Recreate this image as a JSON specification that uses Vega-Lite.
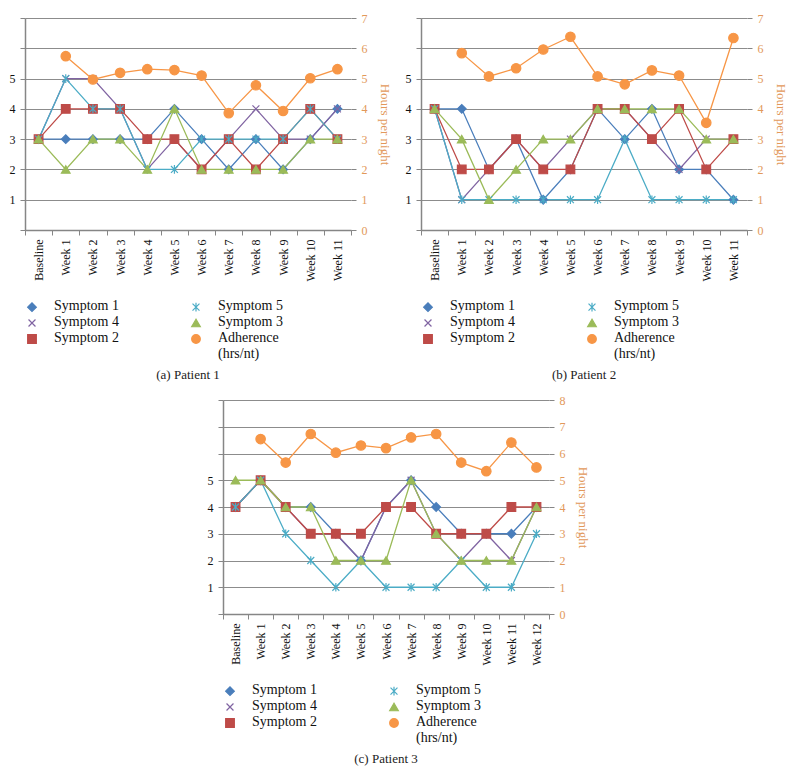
{
  "$schema": "https://vega.github.io/schema/vega-lite/v6.json",
  "background": "white",
  "padding": {"left": 9, "top": 12, "right": 5, "bottom": 5},
  "config": {
    "font": "Liberation Serif",
    "view": {"stroke": null},
    "axis": {"labelFont": "Liberation Serif", "titleFont": "Liberation Serif", "labelFontSize": 12, "domainColor": "#868686", "tickColor": "#868686", "gridColor": "#8c8c8c", "tickSize": 5, "labelColor": "#111111"},
    "legend": {"orient": "bottom", "columns": 2, "title": null, "labelFont": "Liberation Serif", "labelFontSize": 14, "labelColor": "#111111", "symbolSize": 75, "symbolStrokeWidth": 1.2, "rowPadding": 1, "columnPadding": 70, "labelOffset": 15, "offset": 18, "labelLimit": 200, "labelBaseline": "top"},
    "title": {"font": "Liberation Serif", "fontSize": 13, "fontWeight": "normal", "color": "#222222"}
  },
  "datasets": {
    "p1": [
      {"week": "Baseline", "series": "Symptom 1", "value": 3}, {"week": "Week 1", "series": "Symptom 1", "value": 3}, {"week": "Week 2", "series": "Symptom 1", "value": 3}, {"week": "Week 3", "series": "Symptom 1", "value": 3}, {"week": "Week 4", "series": "Symptom 1", "value": 3}, {"week": "Week 5", "series": "Symptom 1", "value": 4}, {"week": "Week 6", "series": "Symptom 1", "value": 3}, {"week": "Week 7", "series": "Symptom 1", "value": 2}, {"week": "Week 8", "series": "Symptom 1", "value": 3}, {"week": "Week 9", "series": "Symptom 1", "value": 2}, {"week": "Week 10", "series": "Symptom 1", "value": 3}, {"week": "Week 11", "series": "Symptom 1", "value": 4},
      {"week": "Baseline", "series": "Symptom 4", "value": 3}, {"week": "Week 1", "series": "Symptom 4", "value": 5}, {"week": "Week 2", "series": "Symptom 4", "value": 5}, {"week": "Week 3", "series": "Symptom 4", "value": 4}, {"week": "Week 4", "series": "Symptom 4", "value": 2}, {"week": "Week 5", "series": "Symptom 4", "value": 3}, {"week": "Week 6", "series": "Symptom 4", "value": 2}, {"week": "Week 7", "series": "Symptom 4", "value": 3}, {"week": "Week 8", "series": "Symptom 4", "value": 4}, {"week": "Week 9", "series": "Symptom 4", "value": 3}, {"week": "Week 10", "series": "Symptom 4", "value": 3}, {"week": "Week 11", "series": "Symptom 4", "value": 4},
      {"week": "Baseline", "series": "Symptom 2", "value": 3}, {"week": "Week 1", "series": "Symptom 2", "value": 4}, {"week": "Week 2", "series": "Symptom 2", "value": 4}, {"week": "Week 3", "series": "Symptom 2", "value": 4}, {"week": "Week 4", "series": "Symptom 2", "value": 3}, {"week": "Week 5", "series": "Symptom 2", "value": 3}, {"week": "Week 6", "series": "Symptom 2", "value": 2}, {"week": "Week 7", "series": "Symptom 2", "value": 3}, {"week": "Week 8", "series": "Symptom 2", "value": 2}, {"week": "Week 9", "series": "Symptom 2", "value": 3}, {"week": "Week 10", "series": "Symptom 2", "value": 4}, {"week": "Week 11", "series": "Symptom 2", "value": 3},
      {"week": "Baseline", "series": "Symptom 5", "value": 3}, {"week": "Week 1", "series": "Symptom 5", "value": 5}, {"week": "Week 2", "series": "Symptom 5", "value": 4}, {"week": "Week 3", "series": "Symptom 5", "value": 4}, {"week": "Week 4", "series": "Symptom 5", "value": 2}, {"week": "Week 5", "series": "Symptom 5", "value": 2}, {"week": "Week 6", "series": "Symptom 5", "value": 3}, {"week": "Week 7", "series": "Symptom 5", "value": 3}, {"week": "Week 8", "series": "Symptom 5", "value": 3}, {"week": "Week 9", "series": "Symptom 5", "value": 3}, {"week": "Week 10", "series": "Symptom 5", "value": 4}, {"week": "Week 11", "series": "Symptom 5", "value": 3},
      {"week": "Baseline", "series": "Symptom 3", "value": 3}, {"week": "Week 1", "series": "Symptom 3", "value": 2}, {"week": "Week 2", "series": "Symptom 3", "value": 3}, {"week": "Week 3", "series": "Symptom 3", "value": 3}, {"week": "Week 4", "series": "Symptom 3", "value": 2}, {"week": "Week 5", "series": "Symptom 3", "value": 4}, {"week": "Week 6", "series": "Symptom 3", "value": 2}, {"week": "Week 7", "series": "Symptom 3", "value": 2}, {"week": "Week 8", "series": "Symptom 3", "value": 2}, {"week": "Week 9", "series": "Symptom 3", "value": 2}, {"week": "Week 10", "series": "Symptom 3", "value": 3}, {"week": "Week 11", "series": "Symptom 3", "value": 3},
      {"week": "Week 1", "series": "Adherence (hrs/nt)", "value": 5.74}, {"week": "Week 2", "series": "Adherence (hrs/nt)", "value": 4.97}, {"week": "Week 3", "series": "Adherence (hrs/nt)", "value": 5.19}, {"week": "Week 4", "series": "Adherence (hrs/nt)", "value": 5.31}, {"week": "Week 5", "series": "Adherence (hrs/nt)", "value": 5.28}, {"week": "Week 6", "series": "Adherence (hrs/nt)", "value": 5.1}, {"week": "Week 7", "series": "Adherence (hrs/nt)", "value": 3.86}, {"week": "Week 8", "series": "Adherence (hrs/nt)", "value": 4.78}, {"week": "Week 9", "series": "Adherence (hrs/nt)", "value": 3.93}, {"week": "Week 10", "series": "Adherence (hrs/nt)", "value": 5.01}, {"week": "Week 11", "series": "Adherence (hrs/nt)", "value": 5.31}
    ],
    "p2": [
      {"week": "Baseline", "series": "Symptom 1", "value": 4}, {"week": "Week 1", "series": "Symptom 1", "value": 4}, {"week": "Week 2", "series": "Symptom 1", "value": 2}, {"week": "Week 3", "series": "Symptom 1", "value": 3}, {"week": "Week 4", "series": "Symptom 1", "value": 1}, {"week": "Week 5", "series": "Symptom 1", "value": 2}, {"week": "Week 6", "series": "Symptom 1", "value": 4}, {"week": "Week 7", "series": "Symptom 1", "value": 3}, {"week": "Week 8", "series": "Symptom 1", "value": 4}, {"week": "Week 9", "series": "Symptom 1", "value": 2}, {"week": "Week 10", "series": "Symptom 1", "value": 2}, {"week": "Week 11", "series": "Symptom 1", "value": 1},
      {"week": "Baseline", "series": "Symptom 4", "value": 4}, {"week": "Week 1", "series": "Symptom 4", "value": 1}, {"week": "Week 2", "series": "Symptom 4", "value": 2}, {"week": "Week 3", "series": "Symptom 4", "value": 3}, {"week": "Week 4", "series": "Symptom 4", "value": 2}, {"week": "Week 5", "series": "Symptom 4", "value": 3}, {"week": "Week 6", "series": "Symptom 4", "value": 4}, {"week": "Week 7", "series": "Symptom 4", "value": 4}, {"week": "Week 8", "series": "Symptom 4", "value": 3}, {"week": "Week 9", "series": "Symptom 4", "value": 2}, {"week": "Week 10", "series": "Symptom 4", "value": 3}, {"week": "Week 11", "series": "Symptom 4", "value": 3},
      {"week": "Baseline", "series": "Symptom 2", "value": 4}, {"week": "Week 1", "series": "Symptom 2", "value": 2}, {"week": "Week 2", "series": "Symptom 2", "value": 2}, {"week": "Week 3", "series": "Symptom 2", "value": 3}, {"week": "Week 4", "series": "Symptom 2", "value": 2}, {"week": "Week 5", "series": "Symptom 2", "value": 2}, {"week": "Week 6", "series": "Symptom 2", "value": 4}, {"week": "Week 7", "series": "Symptom 2", "value": 4}, {"week": "Week 8", "series": "Symptom 2", "value": 3}, {"week": "Week 9", "series": "Symptom 2", "value": 4}, {"week": "Week 10", "series": "Symptom 2", "value": 2}, {"week": "Week 11", "series": "Symptom 2", "value": 3},
      {"week": "Baseline", "series": "Symptom 5", "value": 4}, {"week": "Week 1", "series": "Symptom 5", "value": 1}, {"week": "Week 2", "series": "Symptom 5", "value": 1}, {"week": "Week 3", "series": "Symptom 5", "value": 1}, {"week": "Week 4", "series": "Symptom 5", "value": 1}, {"week": "Week 5", "series": "Symptom 5", "value": 1}, {"week": "Week 6", "series": "Symptom 5", "value": 1}, {"week": "Week 7", "series": "Symptom 5", "value": 3}, {"week": "Week 8", "series": "Symptom 5", "value": 1}, {"week": "Week 9", "series": "Symptom 5", "value": 1}, {"week": "Week 10", "series": "Symptom 5", "value": 1}, {"week": "Week 11", "series": "Symptom 5", "value": 1},
      {"week": "Baseline", "series": "Symptom 3", "value": 4}, {"week": "Week 1", "series": "Symptom 3", "value": 3}, {"week": "Week 2", "series": "Symptom 3", "value": 1}, {"week": "Week 3", "series": "Symptom 3", "value": 2}, {"week": "Week 4", "series": "Symptom 3", "value": 3}, {"week": "Week 5", "series": "Symptom 3", "value": 3}, {"week": "Week 6", "series": "Symptom 3", "value": 4}, {"week": "Week 7", "series": "Symptom 3", "value": 4}, {"week": "Week 8", "series": "Symptom 3", "value": 4}, {"week": "Week 9", "series": "Symptom 3", "value": 4}, {"week": "Week 10", "series": "Symptom 3", "value": 3}, {"week": "Week 11", "series": "Symptom 3", "value": 3},
      {"week": "Week 1", "series": "Adherence (hrs/nt)", "value": 5.84}, {"week": "Week 2", "series": "Adherence (hrs/nt)", "value": 5.07}, {"week": "Week 3", "series": "Adherence (hrs/nt)", "value": 5.34}, {"week": "Week 4", "series": "Adherence (hrs/nt)", "value": 5.96}, {"week": "Week 5", "series": "Adherence (hrs/nt)", "value": 6.38}, {"week": "Week 6", "series": "Adherence (hrs/nt)", "value": 5.07}, {"week": "Week 7", "series": "Adherence (hrs/nt)", "value": 4.81}, {"week": "Week 8", "series": "Adherence (hrs/nt)", "value": 5.27}, {"week": "Week 9", "series": "Adherence (hrs/nt)", "value": 5.1}, {"week": "Week 10", "series": "Adherence (hrs/nt)", "value": 3.54}, {"week": "Week 11", "series": "Adherence (hrs/nt)", "value": 6.34}
    ],
    "p3": [
      {"week": "Baseline", "series": "Symptom 1", "value": 4}, {"week": "Week 1", "series": "Symptom 1", "value": 5}, {"week": "Week 2", "series": "Symptom 1", "value": 4}, {"week": "Week 3", "series": "Symptom 1", "value": 4}, {"week": "Week 4", "series": "Symptom 1", "value": 3}, {"week": "Week 5", "series": "Symptom 1", "value": 2}, {"week": "Week 6", "series": "Symptom 1", "value": 4}, {"week": "Week 7", "series": "Symptom 1", "value": 5}, {"week": "Week 8", "series": "Symptom 1", "value": 4}, {"week": "Week 9", "series": "Symptom 1", "value": 3}, {"week": "Week 10", "series": "Symptom 1", "value": 3}, {"week": "Week 11", "series": "Symptom 1", "value": 3}, {"week": "Week 12", "series": "Symptom 1", "value": 4},
      {"week": "Baseline", "series": "Symptom 4", "value": 4}, {"week": "Week 1", "series": "Symptom 4", "value": 5}, {"week": "Week 2", "series": "Symptom 4", "value": 4}, {"week": "Week 3", "series": "Symptom 4", "value": 3}, {"week": "Week 4", "series": "Symptom 4", "value": 3}, {"week": "Week 5", "series": "Symptom 4", "value": 2}, {"week": "Week 6", "series": "Symptom 4", "value": 4}, {"week": "Week 7", "series": "Symptom 4", "value": 5}, {"week": "Week 8", "series": "Symptom 4", "value": 3}, {"week": "Week 9", "series": "Symptom 4", "value": 2}, {"week": "Week 10", "series": "Symptom 4", "value": 3}, {"week": "Week 11", "series": "Symptom 4", "value": 2}, {"week": "Week 12", "series": "Symptom 4", "value": 4},
      {"week": "Baseline", "series": "Symptom 2", "value": 4}, {"week": "Week 1", "series": "Symptom 2", "value": 5}, {"week": "Week 2", "series": "Symptom 2", "value": 4}, {"week": "Week 3", "series": "Symptom 2", "value": 3}, {"week": "Week 4", "series": "Symptom 2", "value": 3}, {"week": "Week 5", "series": "Symptom 2", "value": 3}, {"week": "Week 6", "series": "Symptom 2", "value": 4}, {"week": "Week 7", "series": "Symptom 2", "value": 4}, {"week": "Week 8", "series": "Symptom 2", "value": 3}, {"week": "Week 9", "series": "Symptom 2", "value": 3}, {"week": "Week 10", "series": "Symptom 2", "value": 3}, {"week": "Week 11", "series": "Symptom 2", "value": 4}, {"week": "Week 12", "series": "Symptom 2", "value": 4},
      {"week": "Baseline", "series": "Symptom 5", "value": 4}, {"week": "Week 1", "series": "Symptom 5", "value": 5}, {"week": "Week 2", "series": "Symptom 5", "value": 3}, {"week": "Week 3", "series": "Symptom 5", "value": 2}, {"week": "Week 4", "series": "Symptom 5", "value": 1}, {"week": "Week 5", "series": "Symptom 5", "value": 2}, {"week": "Week 6", "series": "Symptom 5", "value": 1}, {"week": "Week 7", "series": "Symptom 5", "value": 1}, {"week": "Week 8", "series": "Symptom 5", "value": 1}, {"week": "Week 9", "series": "Symptom 5", "value": 2}, {"week": "Week 10", "series": "Symptom 5", "value": 1}, {"week": "Week 11", "series": "Symptom 5", "value": 1}, {"week": "Week 12", "series": "Symptom 5", "value": 3},
      {"week": "Baseline", "series": "Symptom 3", "value": 5}, {"week": "Week 1", "series": "Symptom 3", "value": 5}, {"week": "Week 2", "series": "Symptom 3", "value": 4}, {"week": "Week 3", "series": "Symptom 3", "value": 4}, {"week": "Week 4", "series": "Symptom 3", "value": 2}, {"week": "Week 5", "series": "Symptom 3", "value": 2}, {"week": "Week 6", "series": "Symptom 3", "value": 2}, {"week": "Week 7", "series": "Symptom 3", "value": 5}, {"week": "Week 8", "series": "Symptom 3", "value": 3}, {"week": "Week 9", "series": "Symptom 3", "value": 2}, {"week": "Week 10", "series": "Symptom 3", "value": 2}, {"week": "Week 11", "series": "Symptom 3", "value": 2}, {"week": "Week 12", "series": "Symptom 3", "value": 4},
      {"week": "Week 1", "series": "Adherence (hrs/nt)", "value": 6.54}, {"week": "Week 2", "series": "Adherence (hrs/nt)", "value": 5.66}, {"week": "Week 3", "series": "Adherence (hrs/nt)", "value": 6.73}, {"week": "Week 4", "series": "Adherence (hrs/nt)", "value": 6.03}, {"week": "Week 5", "series": "Adherence (hrs/nt)", "value": 6.3}, {"week": "Week 6", "series": "Adherence (hrs/nt)", "value": 6.2}, {"week": "Week 7", "series": "Adherence (hrs/nt)", "value": 6.6}, {"week": "Week 8", "series": "Adherence (hrs/nt)", "value": 6.73}, {"week": "Week 9", "series": "Adherence (hrs/nt)", "value": 5.66}, {"week": "Week 10", "series": "Adherence (hrs/nt)", "value": 5.34}, {"week": "Week 11", "series": "Adherence (hrs/nt)", "value": 6.41}, {"week": "Week 12", "series": "Adherence (hrs/nt)", "value": 5.48}
    ]
  },
  "spacing": 12,
  "center": true,
  "resolve": {"scale": {"stroke": "independent", "fill": "independent", "shape": "independent", "x": "independent", "y": "independent"}, "legend": {"stroke": "independent", "fill": "independent", "shape": "independent"}},
  "vconcat": [
    {
      "spacing": 15,
      "resolve": {"scale": {"stroke": "independent", "fill": "independent", "shape": "independent", "x": "independent", "y": "independent"}, "legend": {"stroke": "independent", "fill": "independent", "shape": "independent"}},
      "hconcat": [
        {
          "width": 326, "height": 212,
          "data": {"name": "p1"},
          "title": {"text": "(a)  Patient 1", "orient": "bottom", "anchor": "middle", "frame": "group", "offset": 8},
          "encoding": {
            "x": {"field": "week", "type": "nominal", "title": null,
              "sort": ["Baseline", "Week 1", "Week 2", "Week 3", "Week 4", "Week 5", "Week 6", "Week 7", "Week 8", "Week 9", "Week 10", "Week 11"],
              "scale": {"type": "band", "paddingInner": 0, "paddingOuter": 0},
              "axis": {"labelAngle": -90, "labelAlign": "right", "labelBaseline": "middle", "tickBand": "extent", "labelPadding": 4, "domainWidth": 1.5, "labelFont": "Liberation Serif"}}
          },
          "layer": [
            {
              "transform": [{"filter": "datum.series != 'Adherence (hrs/nt)'"}],
              "encoding": {"y": {"field": "value", "type": "quantitative", "title": null, "scale": {"domain": [0, 7], "nice": false},
                "axis": {"orient": "left", "values": [0, 1, 2, 3, 4, 5, 6, 7], "labelExpr": "datum.value >= 1 && datum.value <= 5 ? datum.label : ''", "grid": false, "domainWidth": 1.5, "labelPadding": 5, "labelFont": "Liberation Serif"}}},
              "layer": [
                {"mark": {"type": "line", "strokeWidth": 1.3},
                 "encoding": {"stroke": {"field": "series", "type": "nominal", "scale": {"domain": ["Symptom 1", "Symptom 5", "Symptom 4", "Symptom 3", "Symptom 2", "Adherence (hrs/nt)"], "range": ["#4a7ebb", "#4bacc6", "#8064a2", "#9bbb59", "#be4b48", "#f79646"]},
                   "legend": {"labelFont": "Liberation Serif", "labelExpr": "datum.label == 'Adherence (hrs/nt)' ? ['Adherence', '(hrs/nt)'] : datum.label", "encode": {"labels": {"update": {"dy": {"value": -8}}}}}}}},
                {"mark": {"type": "point", "filled": true, "size": 75, "strokeWidth": 1.2, "opacity": 1},
                 "encoding": {
                   "stroke": {"field": "series", "type": "nominal", "scale": {"domain": ["Symptom 1", "Symptom 5", "Symptom 4", "Symptom 3", "Symptom 2", "Adherence (hrs/nt)"], "range": ["#4a7ebb", "#4bacc6", "#8064a2", "#9bbb59", "#be4b48", "#f79646"]}},
                   "fill": {"field": "series", "type": "nominal", "scale": {"domain": ["Symptom 1", "Symptom 5", "Symptom 4", "Symptom 3", "Symptom 2", "Adherence (hrs/nt)"], "range": ["#4a7ebb", "#4bacc6", "#8064a2", "#9bbb59", "#be4b48", "#f79646"]}},
                   "shape": {"field": "series", "type": "nominal", "scale": {"domain": ["Symptom 1", "Symptom 5", "Symptom 4", "Symptom 3", "Symptom 2", "Adherence (hrs/nt)"], "range": ["diamond", "M-0.8,-0.8L0.8,0.8M-0.8,0.8L0.8,-0.8M0,-1L0,1", "M-0.8,-0.8L0.8,0.8M-0.8,0.8L0.8,-0.8", "triangle-up", "square", "circle"]}}}}
              ]
            },
            {
              "transform": [{"filter": "datum.series == 'Adherence (hrs/nt)'"}],
              "encoding": {"y": {"field": "value", "type": "quantitative", "title": "Hours per night", "scale": {"domain": [0, 7], "nice": false},
                "axis": {"orient": "right", "values": [0, 1, 2, 3, 4, 5, 6, 7], "grid": true, "domain": false, "labelColor": "#e2985a", "titleColor": "#e2985a", "titleFontSize": 13, "titleFontWeight": "normal", "titlePadding": 10, "labelPadding": 5, "labelFont": "Liberation Serif"}}},
              "layer": [
                {"mark": {"type": "line", "strokeWidth": 1.3},
                 "encoding": {"stroke": {"field": "series", "type": "nominal", "scale": {"domain": ["Symptom 1", "Symptom 5", "Symptom 4", "Symptom 3", "Symptom 2", "Adherence (hrs/nt)"], "range": ["#4a7ebb", "#4bacc6", "#8064a2", "#9bbb59", "#be4b48", "#f79646"]}}}},
                {"mark": {"type": "point", "filled": true, "size": 90, "strokeWidth": 1.2, "opacity": 1},
                 "encoding": {
                   "stroke": {"field": "series", "type": "nominal", "scale": {"domain": ["Symptom 1", "Symptom 5", "Symptom 4", "Symptom 3", "Symptom 2", "Adherence (hrs/nt)"], "range": ["#4a7ebb", "#4bacc6", "#8064a2", "#9bbb59", "#be4b48", "#f79646"]}},
                   "fill": {"field": "series", "type": "nominal", "scale": {"domain": ["Symptom 1", "Symptom 5", "Symptom 4", "Symptom 3", "Symptom 2", "Adherence (hrs/nt)"], "range": ["#4a7ebb", "#4bacc6", "#8064a2", "#9bbb59", "#be4b48", "#f79646"]}},
                   "shape": {"field": "series", "type": "nominal", "scale": {"domain": ["Symptom 1", "Symptom 5", "Symptom 4", "Symptom 3", "Symptom 2", "Adherence (hrs/nt)"], "range": ["diamond", "M-0.8,-0.8L0.8,0.8M-0.8,0.8L0.8,-0.8M0,-1L0,1", "M-0.8,-0.8L0.8,0.8M-0.8,0.8L0.8,-0.8", "triangle-up", "square", "circle"]}}}}
              ]
            }
          ],
          "resolve": {"scale": {"y": "independent"}}
        },
        {
          "width": 326, "height": 212,
          "data": {"name": "p2"},
          "title": {"text": "(b)  Patient 2", "orient": "bottom", "anchor": "middle", "frame": "group", "offset": 8},
          "encoding": {
            "x": {"field": "week", "type": "nominal", "title": null,
              "sort": ["Baseline", "Week 1", "Week 2", "Week 3", "Week 4", "Week 5", "Week 6", "Week 7", "Week 8", "Week 9", "Week 10", "Week 11"],
              "scale": {"type": "band", "paddingInner": 0, "paddingOuter": 0},
              "axis": {"labelAngle": -90, "labelAlign": "right", "labelBaseline": "middle", "tickBand": "extent", "labelPadding": 4, "domainWidth": 1.5, "labelFont": "Liberation Serif"}}
          },
          "layer": [
            {
              "transform": [{"filter": "datum.series != 'Adherence (hrs/nt)'"}],
              "encoding": {"y": {"field": "value", "type": "quantitative", "title": null, "scale": {"domain": [0, 7], "nice": false},
                "axis": {"orient": "left", "values": [0, 1, 2, 3, 4, 5, 6, 7], "labelExpr": "datum.value >= 1 && datum.value <= 5 ? datum.label : ''", "grid": false, "domainWidth": 1.5, "labelPadding": 5, "labelFont": "Liberation Serif"}}},
              "layer": [
                {"mark": {"type": "line", "strokeWidth": 1.3},
                 "encoding": {"stroke": {"field": "series", "type": "nominal", "scale": {"domain": ["Symptom 1", "Symptom 5", "Symptom 4", "Symptom 3", "Symptom 2", "Adherence (hrs/nt)"], "range": ["#4a7ebb", "#4bacc6", "#8064a2", "#9bbb59", "#be4b48", "#f79646"]},
                   "legend": {"labelFont": "Liberation Serif", "labelExpr": "datum.label == 'Adherence (hrs/nt)' ? ['Adherence', '(hrs/nt)'] : datum.label", "encode": {"labels": {"update": {"dy": {"value": -8}}}}}}}},
                {"mark": {"type": "point", "filled": true, "size": 75, "strokeWidth": 1.2, "opacity": 1},
                 "encoding": {
                   "stroke": {"field": "series", "type": "nominal", "scale": {"domain": ["Symptom 1", "Symptom 5", "Symptom 4", "Symptom 3", "Symptom 2", "Adherence (hrs/nt)"], "range": ["#4a7ebb", "#4bacc6", "#8064a2", "#9bbb59", "#be4b48", "#f79646"]}},
                   "fill": {"field": "series", "type": "nominal", "scale": {"domain": ["Symptom 1", "Symptom 5", "Symptom 4", "Symptom 3", "Symptom 2", "Adherence (hrs/nt)"], "range": ["#4a7ebb", "#4bacc6", "#8064a2", "#9bbb59", "#be4b48", "#f79646"]}},
                   "shape": {"field": "series", "type": "nominal", "scale": {"domain": ["Symptom 1", "Symptom 5", "Symptom 4", "Symptom 3", "Symptom 2", "Adherence (hrs/nt)"], "range": ["diamond", "M-0.8,-0.8L0.8,0.8M-0.8,0.8L0.8,-0.8M0,-1L0,1", "M-0.8,-0.8L0.8,0.8M-0.8,0.8L0.8,-0.8", "triangle-up", "square", "circle"]}}}}
              ]
            },
            {
              "transform": [{"filter": "datum.series == 'Adherence (hrs/nt)'"}],
              "encoding": {"y": {"field": "value", "type": "quantitative", "title": "Hours per night", "scale": {"domain": [0, 7], "nice": false},
                "axis": {"orient": "right", "values": [0, 1, 2, 3, 4, 5, 6, 7], "grid": true, "domain": false, "labelColor": "#e2985a", "titleColor": "#e2985a", "titleFontSize": 13, "titleFontWeight": "normal", "titlePadding": 10, "labelPadding": 5, "labelFont": "Liberation Serif"}}},
              "layer": [
                {"mark": {"type": "line", "strokeWidth": 1.3},
                 "encoding": {"stroke": {"field": "series", "type": "nominal", "scale": {"domain": ["Symptom 1", "Symptom 5", "Symptom 4", "Symptom 3", "Symptom 2", "Adherence (hrs/nt)"], "range": ["#4a7ebb", "#4bacc6", "#8064a2", "#9bbb59", "#be4b48", "#f79646"]}}}},
                {"mark": {"type": "point", "filled": true, "size": 90, "strokeWidth": 1.2, "opacity": 1},
                 "encoding": {
                   "stroke": {"field": "series", "type": "nominal", "scale": {"domain": ["Symptom 1", "Symptom 5", "Symptom 4", "Symptom 3", "Symptom 2", "Adherence (hrs/nt)"], "range": ["#4a7ebb", "#4bacc6", "#8064a2", "#9bbb59", "#be4b48", "#f79646"]}},
                   "fill": {"field": "series", "type": "nominal", "scale": {"domain": ["Symptom 1", "Symptom 5", "Symptom 4", "Symptom 3", "Symptom 2", "Adherence (hrs/nt)"], "range": ["#4a7ebb", "#4bacc6", "#8064a2", "#9bbb59", "#be4b48", "#f79646"]}},
                   "shape": {"field": "series", "type": "nominal", "scale": {"domain": ["Symptom 1", "Symptom 5", "Symptom 4", "Symptom 3", "Symptom 2", "Adherence (hrs/nt)"], "range": ["diamond", "M-0.8,-0.8L0.8,0.8M-0.8,0.8L0.8,-0.8M0,-1L0,1", "M-0.8,-0.8L0.8,0.8M-0.8,0.8L0.8,-0.8", "triangle-up", "square", "circle"]}}}}
              ]
            }
          ],
          "resolve": {"scale": {"y": "independent"}}
        }
      ]
    },
    {
      "width": 326, "height": 214,
      "data": {"name": "p3"},
      "title": {"text": "(c)  Patient 3", "orient": "bottom", "anchor": "middle", "frame": "group", "offset": 8},
      "encoding": {
        "x": {"field": "week", "type": "nominal", "title": null,
          "sort": ["Baseline", "Week 1", "Week 2", "Week 3", "Week 4", "Week 5", "Week 6", "Week 7", "Week 8", "Week 9", "Week 10", "Week 11", "Week 12"],
          "scale": {"type": "band", "paddingInner": 0, "paddingOuter": 0},
          "axis": {"labelAngle": -90, "labelAlign": "right", "labelBaseline": "middle", "tickBand": "extent", "labelPadding": 4, "domainWidth": 1.5, "labelFont": "Liberation Serif"}}
      },
      "layer": [
        {
          "transform": [{"filter": "datum.series != 'Adherence (hrs/nt)'"}],
          "encoding": {"y": {"field": "value", "type": "quantitative", "title": null, "scale": {"domain": [0, 8], "nice": false},
            "axis": {"orient": "left", "values": [0, 1, 2, 3, 4, 5, 6, 7, 8], "labelExpr": "datum.value >= 1 && datum.value <= 5 ? datum.label : ''", "grid": false, "domainWidth": 1.5, "labelPadding": 5, "labelFont": "Liberation Serif"}}},
          "layer": [
            {"mark": {"type": "line", "strokeWidth": 1.3},
             "encoding": {"stroke": {"field": "series", "type": "nominal", "scale": {"domain": ["Symptom 1", "Symptom 5", "Symptom 4", "Symptom 3", "Symptom 2", "Adherence (hrs/nt)"], "range": ["#4a7ebb", "#4bacc6", "#8064a2", "#9bbb59", "#be4b48", "#f79646"]},
               "legend": {"labelFont": "Liberation Serif", "labelExpr": "datum.label == 'Adherence (hrs/nt)' ? ['Adherence', '(hrs/nt)'] : datum.label", "encode": {"labels": {"update": {"dy": {"value": -8}}}}}}}},
            {"mark": {"type": "point", "filled": true, "size": 75, "strokeWidth": 1.2, "opacity": 1},
             "encoding": {
               "stroke": {"field": "series", "type": "nominal", "scale": {"domain": ["Symptom 1", "Symptom 5", "Symptom 4", "Symptom 3", "Symptom 2", "Adherence (hrs/nt)"], "range": ["#4a7ebb", "#4bacc6", "#8064a2", "#9bbb59", "#be4b48", "#f79646"]}},
               "fill": {"field": "series", "type": "nominal", "scale": {"domain": ["Symptom 1", "Symptom 5", "Symptom 4", "Symptom 3", "Symptom 2", "Adherence (hrs/nt)"], "range": ["#4a7ebb", "#4bacc6", "#8064a2", "#9bbb59", "#be4b48", "#f79646"]}},
               "shape": {"field": "series", "type": "nominal", "scale": {"domain": ["Symptom 1", "Symptom 5", "Symptom 4", "Symptom 3", "Symptom 2", "Adherence (hrs/nt)"], "range": ["diamond", "M-0.8,-0.8L0.8,0.8M-0.8,0.8L0.8,-0.8M0,-1L0,1", "M-0.8,-0.8L0.8,0.8M-0.8,0.8L0.8,-0.8", "triangle-up", "square", "circle"]}}}}
          ]
        },
        {
          "transform": [{"filter": "datum.series == 'Adherence (hrs/nt)'"}],
          "encoding": {"y": {"field": "value", "type": "quantitative", "title": "Hours per night", "scale": {"domain": [0, 8], "nice": false},
            "axis": {"orient": "right", "values": [0, 1, 2, 3, 4, 5, 6, 7, 8], "grid": true, "domain": false, "labelColor": "#e2985a", "titleColor": "#e2985a", "titleFontSize": 13, "titleFontWeight": "normal", "titlePadding": 10, "labelPadding": 5, "labelFont": "Liberation Serif"}}},
          "layer": [
            {"mark": {"type": "line", "strokeWidth": 1.3},
             "encoding": {"stroke": {"field": "series", "type": "nominal", "scale": {"domain": ["Symptom 1", "Symptom 5", "Symptom 4", "Symptom 3", "Symptom 2", "Adherence (hrs/nt)"], "range": ["#4a7ebb", "#4bacc6", "#8064a2", "#9bbb59", "#be4b48", "#f79646"]}}}},
            {"mark": {"type": "point", "filled": true, "size": 90, "strokeWidth": 1.2, "opacity": 1},
             "encoding": {
               "stroke": {"field": "series", "type": "nominal", "scale": {"domain": ["Symptom 1", "Symptom 5", "Symptom 4", "Symptom 3", "Symptom 2", "Adherence (hrs/nt)"], "range": ["#4a7ebb", "#4bacc6", "#8064a2", "#9bbb59", "#be4b48", "#f79646"]}},
               "fill": {"field": "series", "type": "nominal", "scale": {"domain": ["Symptom 1", "Symptom 5", "Symptom 4", "Symptom 3", "Symptom 2", "Adherence (hrs/nt)"], "range": ["#4a7ebb", "#4bacc6", "#8064a2", "#9bbb59", "#be4b48", "#f79646"]}},
               "shape": {"field": "series", "type": "nominal", "scale": {"domain": ["Symptom 1", "Symptom 5", "Symptom 4", "Symptom 3", "Symptom 2", "Adherence (hrs/nt)"], "range": ["diamond", "M-0.8,-0.8L0.8,0.8M-0.8,0.8L0.8,-0.8M0,-1L0,1", "M-0.8,-0.8L0.8,0.8M-0.8,0.8L0.8,-0.8", "triangle-up", "square", "circle"]}}}}
          ]
        }
      ],
      "resolve": {"scale": {"y": "independent"}}
    }
  ]
}
